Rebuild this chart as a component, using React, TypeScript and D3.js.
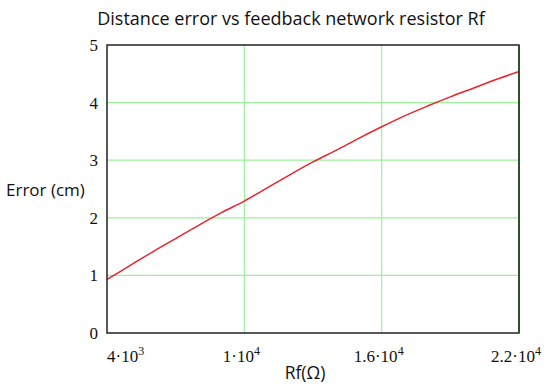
import React from 'react'
import * as d3 from 'd3'

// Rf in ohms, error in cm
const rfValues = [4000, 5000, 6000, 7000, 8000, 9000, 10000, 11000, 12000, 13000, 14000, 15000, 16000, 17000, 18000, 19000, 20000, 21000, 22000]
const errorValues = [0.93, 1.17, 1.41, 1.64, 1.87, 2.09, 2.29, 2.52, 2.75, 2.97, 3.17, 3.38, 3.58, 3.77, 3.94, 4.1, 4.25, 4.4, 4.54]

const xTicks = [4000, 10000, 16000, 22000]
const xTickMantissa = ['4', '1', '1.6', '2.2']
const xTickExp = ['3', '4', '4', '4']
const yTicks = [0, 1, 2, 3, 4, 5]

const W = 550
const H = 390
const margin = { top: 45, right: 31, bottom: 57, left: 107 }

export default function App() {
  const innerW = W - margin.left - margin.right
  const innerH = H - margin.top - margin.bottom

  const x = d3.scaleLinear().domain([4000, 22000]).range([0, innerW])
  const y = d3.scaleLinear().domain([0, 5]).range([innerH, 0])

  const data = rfValues.map((rf, i) => ({ rf, err: errorValues[i] }))
  const line = d3.line<{ rf: number; err: number }>()
    .x(d => x(d.rf))
    .y(d => y(d.err))
    .curve(d3.curveMonotoneX)

  const serif = '"Liberation Serif", "DejaVu Serif", serif'
  const sans = '"Open Sans", "Noto Sans", sans-serif'
  const grid = '#9ef09e'

  return (
    <svg width={W} height={H} style={{ position: 'absolute', left: 0, top: 0, background: '#fff' }}>
      <text x={291} y={25} textAnchor="middle" fontFamily={sans} fontSize={18} fill="#111">
        Distance error vs feedback network resistor Rf
      </text>

      <g transform={`translate(${margin.left},${margin.top})`}>
        {yTicks.filter(t => t > 0 && t < 5).map(t => (
          <line key={'gy' + t} x1={0} x2={innerW} y1={y(t)} y2={y(t)} stroke={grid} strokeWidth={1.2} />
        ))}
        {xTicks.slice(1).map(t => (
          <line key={'gx' + t} x1={x(t)} x2={x(t)} y1={0} y2={innerH} stroke={grid} strokeWidth={1.2} />
        ))}

        <path d={line(data) || ''} fill="none" stroke="#e8242c" strokeWidth={1.5} />

        <rect x={0} y={0} width={innerW} height={innerH} fill="none" stroke="#222" strokeWidth={1.5} />
        <line x1={innerW} x2={innerW} y1={0} y2={innerH} stroke="#2f4f2f" strokeWidth={2} />

        {yTicks.map(t => (
          <text key={'yt' + t} x={-9} y={y(t)} dy="0.35em" textAnchor="end" fontFamily={serif} fontSize={17} fill="#111">
            {t}
          </text>
        ))}

        {xTicks.map((t, i) => (
          <text key={'xt' + t} x={i === 0 ? x(t) : x(t) - 3} y={innerH + 29} textAnchor={i === 0 ? 'start' : 'middle'}
            fontFamily={serif} fontSize={17} fill="#111">
            {xTickMantissa[i]}·10
            <tspan fontSize={12} dy={-7}>{xTickExp[i]}</tspan>
          </text>
        ))}
      </g>

      <text x={305} y={379} textAnchor="middle" fontFamily={sans} fontSize={17.5} fill="#111">Rf(Ω)</text>
      <text x={6} y={196} fontFamily={sans} fontSize={17} fill="#111">Error (cm)</text>
    </svg>
  )
}
